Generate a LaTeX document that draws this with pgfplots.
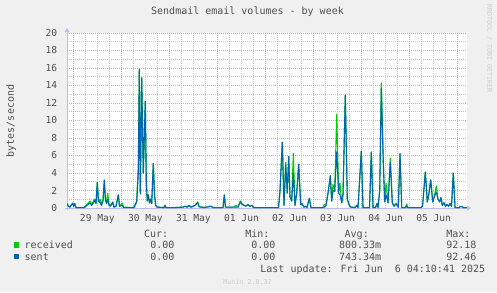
\documentclass[border=0pt]{standalone}
\usepackage{pgfplots}
\pgfplotsset{compat=1.18}
\usepackage{pgfplotstable}
\usepackage{fontspec}
\setmainfont{DejaVu Sans Mono}
\usetikzlibrary{arrows.meta}
\definecolor{bg}{HTML}{F0F0F0}
\definecolor{rec}{HTML}{00CC00}
\definecolor{snt}{HTML}{0066B3}
\definecolor{txt}{HTML}{505050}
\definecolor{mgrid}{HTML}{EE9C9C}
\definecolor{ngrid}{HTML}{C4C4C4}
\definecolor{axc}{HTML}{B8BCF2}
\definecolor{faint}{HTML}{CDCDCD}
\pgfplotstableread{
h r s
-3.15 0.50 0.50
-2.40 0.20 0.20
-1.65 0.10 0.10
-1.15 0.30 0.30
-0.30 0.55 0.55
0.20 0.20 0.20
0.70 0.55 0.50
1.35 0.05 0.05
5.34 0.05 0.05
6.34 0.30 0.20
7.34 0.50 0.40
8.34 0.80 0.60
9.09 0.40 0.30
9.84 0.70 0.50
10.59 1.00 0.90
11.34 0.60 0.50
11.99 2.95 2.90
12.59 0.70 0.80
13.34 1.00 0.60
14.09 0.40 0.30
14.84 1.00 0.80
15.48 3.10 3.20
16.08 0.80 0.90
16.58 0.70 0.50
17.18 1.70 1.00
17.83 0.40 0.30
18.58 0.30 0.20
19.68 0.70 0.65
20.33 0.10 0.10
21.33 0.20 0.20
22.48 1.50 1.50
23.08 0.20 0.20
24.48 0.55 0.30
25.07 0.10 0.05
30.32 0.05 0.05
31.67 0.80 0.70
32.47 5.00 4.00
32.97 15.80 15.85
33.47 1.70 1.60
34.17 14.80 14.90
34.96 4.00 4.00
35.96 12.20 12.20
36.46 3.00 3.00
36.96 0.80 0.80
37.46 1.50 1.50
38.06 0.60 0.60
38.56 1.00 1.00
39.16 0.50 0.50
39.96 5.10 5.10
40.56 1.50 1.50
41.16 0.30 0.30
41.81 0.10 0.10
45.30 0.05 0.05
45.80 0.30 0.30
46.30 0.05 0.05
50.80 0.05 0.05
54.79 0.10 0.10
55.79 0.20 0.20
56.79 0.10 0.10
57.79 0.30 0.30
58.79 0.10 0.10
59.79 0.20 0.20
60.79 0.30 0.30
62.14 0.70 0.60
62.79 0.15 0.15
65.28 0.05 0.05
68.78 0.20 0.20
69.78 0.05 0.05
74.77 0.05 0.05
75.42 1.50 1.50
76.02 0.10 0.10
80.27 0.10 0.10
81.27 0.30 0.10
82.27 0.10 0.10
83.42 0.80 0.70
84.27 0.50 0.40
85.27 0.30 0.30
86.26 0.25 0.20
87.26 0.40 0.40
88.26 0.20 0.20
89.26 0.30 0.30
90.01 0.05 0.05
102.50 0.05 0.05
103.25 2.00 2.00
104.39 7.50 7.50
105.24 0.30 0.30
106.09 5.20 5.00
106.89 1.70 1.70
107.59 5.90 5.90
108.24 1.30 1.30
109.09 0.80 0.80
109.89 6.25 4.00
110.74 0.30 0.30
111.59 1.70 1.70
112.58 5.00 5.00
113.58 0.40 0.40
114.23 0.50 0.50
115.23 0.10 0.10
115.98 0.20 0.20
116.73 0.05 0.05
117.88 1.10 1.10
118.73 0.05 0.05
124.72 0.05 0.05
125.37 0.40 0.10
126.22 0.30 0.30
127.37 1.90 1.90
128.37 3.60 3.70
129.07 0.80 0.80
129.72 2.70 2.00
130.57 1.90 1.90
131.57 10.70 6.40
132.57 1.70 1.70
133.22 2.80 1.50
134.07 0.60 0.60
134.72 1.50 1.50
135.86 12.90 12.90
136.86 1.00 1.00
137.86 0.30 0.30
138.71 0.10 0.10
140.71 0.05 0.05
141.56 0.30 0.30
142.21 0.05 0.05
143.86 6.50 6.50
144.71 0.05 0.05
147.95 0.05 0.05
148.85 6.40 6.40
149.70 0.05 0.05
150.95 0.05 0.05
151.70 0.50 0.50
152.20 0.05 0.05
153.05 2.00 2.00
153.85 14.30 13.70
154.85 5.10 5.00
155.55 0.70 0.70
156.20 2.80 1.50
157.20 0.60 0.60
158.34 5.70 5.20
159.34 0.60 0.60
160.19 0.20 0.20
161.19 0.50 0.50
162.34 0.10 0.10
163.19 6.20 6.20
164.04 0.05 0.05
165.94 0.05 0.05
166.53 0.45 0.20
167.18 0.05 0.05
173.68 0.05 0.05
174.43 0.20 0.20
175.83 4.10 4.10
176.82 0.70 0.70
177.42 1.30 1.30
178.52 3.20 3.20
179.52 0.70 0.70
180.32 1.30 1.30
181.32 2.50 1.80
182.17 1.00 1.00
183.02 0.70 0.70
183.67 1.20 1.20
184.32 0.30 0.30
185.16 0.60 0.60
185.91 0.20 0.20
186.66 0.40 0.40
187.41 0.20 0.20
188.16 0.50 0.50
188.91 0.20 0.20
189.81 4.00 4.00
190.66 0.05 0.05
192.65 0.05 0.05
193.15 0.15 0.15
194.15 0.15 0.15
194.90 0.05 0.05
196.60 0.05 0.05
}\data
\begin{document}
\begin{tikzpicture}[x=1pt,y=1pt]
\fill[bg] (0,0) rectangle (497,292);
\useasboundingbox (0,0) rectangle (497,292);
\begin{axis}[
  at={(67pt,84pt)}, anchor=south west,
  scale only axis, width=400pt, height=175pt,
  xmin=-3.15, xmax=196.65, ymin=0, ymax=20,
  axis lines=left,
  axis background/.style={fill=white},
  every outer x axis line/.append style={draw=axc, line width=0.8pt, -{Triangle[length=4pt,width=4.5pt]}, shorten >=-4pt, shorten <=-2pt},
  every outer y axis line/.append style={draw=axc, line width=0.8pt, -{Triangle[length=4pt,width=4.5pt]}, shorten >=-5pt, shorten <=-2pt},
  tick style={draw=none},
  xtick={12,36,60,84,108,132,156,180},
  xticklabels={29 May,30 May,31 May,01 Jun,02 Jun,03 Jun,04 Jun,05 Jun},
  minor xtick={6,18,30,42,54,66,78,90,102,114,126,138,150,162,174,186},
  extra x ticks={0,24,48,72,96,120,144,168,192,12,36,60,84,108,132,156,180},
  extra x tick labels={},
  extra x tick style={xmajorgrids=false},
  xmajorgrids=false, xminorgrids=true,
  ytick={0,2,...,20}, minor ytick={1,3,...,19},
  ymajorgrids=true, yminorgrids=true,
  major grid style={draw=mgrid, dash pattern=on 1pt off 1pt, line width=0.6pt},
  minor grid style={draw=ngrid, dash pattern=on 1pt off 1pt, line width=0.6pt},
  ticklabel style={font=\fontsize{9.6}{10}\selectfont, text=txt},
  /pgf/number format/assume math mode=true,
  yticklabel style={anchor=east, inner sep=0pt, xshift=-7.5pt},
  xticklabel style={anchor=north, inner sep=0pt, yshift=-4.5pt},
  clip=true,
]
% red midnight grid lines
\pgfplotsinvokeforeach{0,24,48,72,96,120,144,168,192}{
  \draw[draw=mgrid, dash pattern=on 1pt off 1pt, line width=0.6pt] (axis cs:#1,0) -- (axis cs:#1,20);
}
\pgfplotsinvokeforeach{12,36,60,84,108,132,156,180}{
  \draw[draw=ngrid, dash pattern=on 1pt off 1pt, line width=0.6pt] (axis cs:#1,0) -- (axis cs:#1,20);
}
\addplot[rec, line width=1.1pt, line join=round] table[x=h,y=r] {\data};
\addplot[snt, line width=1.1pt, line join=round] table[x=h,y=s] {\data};
\end{axis}
\begin{scope}[every node/.style={inner sep=0pt, text=txt, font=\fontsize{10}{12}\selectfont}]
\node[anchor=base] at (247.5,277.2) {Sendmail email volumes - by week};
\node[rotate=90] at (11,171) {bytes/second};
\node[anchor=base west] at (143.8,54.6) {Cur:};
\node[anchor=base west] at (245.2,54.6) {Min:};
\node[anchor=base west] at (344.5,54.6) {Avg:};
\node[anchor=base west] at (446.2,54.6) {Max:};
\fill[rec] (14,44.3) rectangle (19.3,49.6);
\node[anchor=base west] at (24.5,43.5) {received};
\node[anchor=base west] at (150.2,43.5) {0.00};
\node[anchor=base west] at (251.2,43.5) {0.00};
\node[anchor=base west] at (338.8,43.5) {800.33m};
\node[anchor=base west] at (446.2,43.5) {92.18};
\fill[snt] (14,32.7) rectangle (19.3,38);
\node[anchor=base west] at (24.5,32) {sent};
\node[anchor=base west] at (150.2,32) {0.00};
\node[anchor=base west] at (251.2,32) {0.00};
\node[anchor=base west] at (338.8,32) {743.34m};
\node[anchor=base west] at (446.2,32) {92.46};
\node[anchor=base west] at (260.2,19.7) {Last update: Fri Jun\ \ 6 04:10:41 2025};
\node[anchor=base, text=faint, font=\fontsize{6.7}{8}\selectfont] at (247.5,8) {Munin 2.0.37};
\node[rotate=-90, text=faint, font=\fontsize{6.6}{8}\selectfont] at (489.5,243.5) {RRDTOOL / TOBI OETIKER};
\end{scope}
\end{tikzpicture}
\end{document}
